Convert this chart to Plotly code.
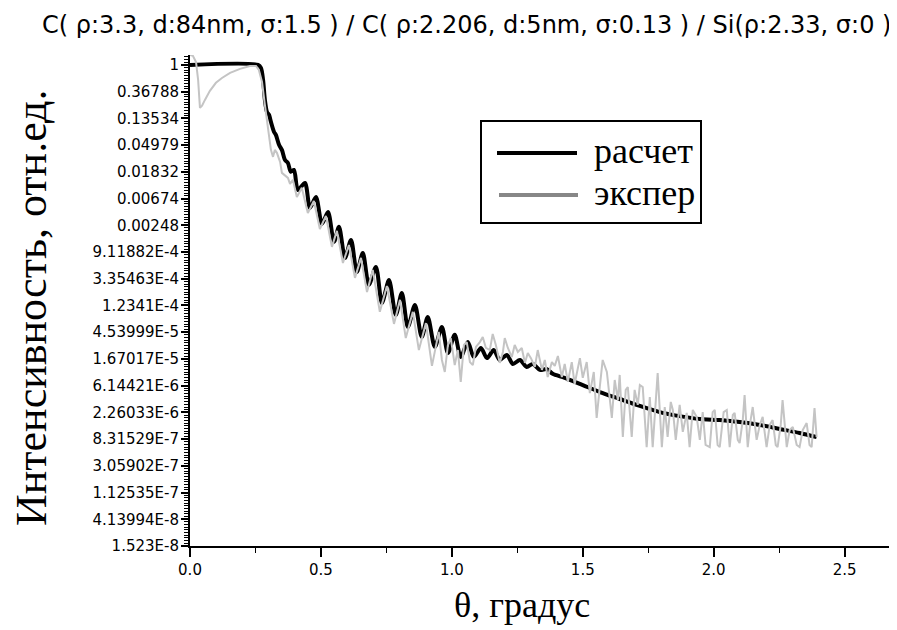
import plotly.graph_objects as go

# ---- data (theta in degrees, ln of relative intensity) ----
calc_theta = [0.000, 0.260, 0.271, 0.279, 0.286, 0.294, 0.302, 0.309, 0.321, 0.328, 0.340, 0.351,
              0.363, 0.374, 0.385, 0.397, 0.412, 0.439, 0.458, 0.481, 0.504, 0.527, 0.550, 0.569,
              0.592, 0.615, 0.637, 0.660, 0.683, 0.710, 0.733, 0.760, 0.786, 0.809, 0.832, 0.859,
              0.885, 0.908, 0.935, 0.962, 0.985, 1.011, 1.034, 1.061, 1.084, 1.111, 1.134, 1.160,
              1.183, 1.210, 1.233, 1.260, 1.286, 1.309, 1.336, 1.363, 1.385, 1.431, 1.500, 1.565,
              1.641, 1.718, 1.794, 1.870, 1.947, 2.023, 2.099, 2.176, 2.252, 2.328, 2.393]
calc_ln = [0.00, 0.00, -0.11, -0.56, -1.31, -1.76, -1.87, -2.13, -2.51, -2.62, -2.99, -3.18,
           -3.56, -3.67, -4.00, -3.93, -4.68, -4.42, -5.35, -4.94, -5.95, -5.50, -6.62, -6.06,
           -7.22, -6.55, -7.75, -7.04, -8.23, -7.56, -8.91, -8.05, -9.36, -8.53, -9.81, -8.98,
           -10.18, -9.43, -10.55, -9.81, -10.78, -10.10, -10.93, -10.37, -10.93, -10.59, -10.97, -10.67,
           -11.04, -10.85, -11.19, -11.04, -11.30, -11.19, -11.41, -11.38, -11.56, -11.71, -11.98, -12.24,
           -12.50, -12.76, -12.99, -13.14, -13.25, -13.29, -13.36, -13.47, -13.62, -13.77, -13.92]

exp_theta = [0.000, 0.011, 0.023, 0.031, 0.038, 0.046, 0.057, 0.076, 0.099, 0.122, 0.153, 0.191,
             0.229, 0.252, 0.263, 0.275, 0.286, 0.294, 0.302, 0.309, 0.317, 0.324, 0.332, 0.344,
             0.351, 0.363, 0.374, 0.382, 0.393, 0.408, 0.427, 0.450, 0.473, 0.496, 0.519, 0.542,
             0.561, 0.584, 0.607, 0.630, 0.653, 0.676, 0.698, 0.725, 0.752, 0.779, 0.802, 0.824,
             0.851, 0.874, 0.901, 0.924, 0.939, 0.950, 0.962, 0.973, 0.985, 0.996, 1.011, 1.023,
             1.034, 1.046, 1.057, 1.069, 1.080, 1.092, 1.107, 1.118, 1.130, 1.145, 1.156, 1.168,
             1.183, 1.195, 1.202, 1.214, 1.229, 1.240, 1.252, 1.267, 1.279, 1.290, 1.302, 1.317,
             1.328, 1.344, 1.355, 1.366, 1.382, 1.393, 1.405, 1.420, 1.431, 1.443, 1.458, 1.469,
             1.489, 1.500, 1.515, 1.527, 1.542, 1.553, 1.565, 1.576, 1.592, 1.603, 1.611, 1.622,
             1.634, 1.641, 1.653, 1.664, 1.672, 1.687, 1.698, 1.710, 1.718, 1.729, 1.744, 1.756,
             1.767, 1.779, 1.786, 1.802, 1.813, 1.824, 1.836, 1.844, 1.855, 1.870, 1.882, 1.897,
             1.908, 1.920, 1.935, 1.947, 1.958, 1.969, 1.985, 1.996, 2.004, 2.015, 2.023, 2.038,
             2.050, 2.061, 2.073, 2.080, 2.092, 2.099, 2.111, 2.118, 2.130, 2.141, 2.149, 2.164,
             2.176, 2.187, 2.202, 2.214, 2.225, 2.237, 2.244, 2.256, 2.263, 2.279, 2.290, 2.302,
             2.317, 2.328, 2.340, 2.355, 2.366, 2.374, 2.385, 2.393]
exp_ln = [0.37, 0.34, 0.11, -0.56, -1.61, -1.53, -1.31, -0.97, -0.67, -0.49, -0.30, -0.15,
          -0.04, -0.04, -0.19, -0.64, -1.50, -2.06, -2.62, -3.18, -3.44, -3.18, -3.29, -3.63,
          -4.04, -4.15, -4.23, -4.45, -4.30, -4.94, -4.60, -5.54, -5.09, -6.14, -5.65, -6.81,
          -6.21, -7.41, -6.74, -7.97, -7.22, -8.50, -7.67, -9.24, -8.27, -9.69, -8.79, -10.22,
          -9.24, -10.67, -9.66, -11.26, -10.48, -9.99, -11.04, -11.49, -10.48, -10.22, -11.23, -10.67,
          -11.86, -10.48, -10.37, -11.12, -11.23, -10.55, -10.37, -10.18, -10.59, -10.67, -10.07, -10.48,
          -11.15, -10.74, -10.22, -10.59, -10.93, -10.48, -10.74, -10.59, -11.15, -10.78, -10.97, -11.30,
          -10.67, -11.41, -11.04, -11.68, -11.12, -11.26, -10.89, -11.68, -11.19, -11.86, -11.12, -11.94,
          -10.97, -11.71, -11.12, -12.28, -11.49, -13.21, -12.05, -11.04, -11.49, -12.43, -13.21, -11.79,
          -12.54, -11.60, -13.92, -12.16, -12.05, -13.92, -12.16, -12.72, -11.98, -12.05, -14.30, -12.43,
          -14.30, -12.54, -11.53, -14.30, -12.80, -13.92, -12.61, -12.91, -14.03, -12.72, -13.73, -13.02,
          -14.30, -12.91, -13.17, -14.03, -12.99, -14.22, -14.30, -12.99, -12.91, -14.22, -14.30, -12.99,
          -12.91, -14.30, -13.10, -13.02, -14.03, -14.15, -13.29, -12.35, -14.30, -13.29, -12.80, -14.03,
          -13.47, -13.17, -14.30, -13.47, -13.29, -14.22, -14.30, -13.47, -12.54, -14.30, -13.66, -13.55,
          -14.22, -14.30, -13.66, -13.40, -14.22, -14.30, -12.84, -13.92]

# y tick labels (natural-log scale, Origin style)
ytick_vals = [0, -1, -2, -3, -4, -5, -6, -7, -8, -9, -10, -11, -12, -13, -14, -15, -16, -17, -18]
ytick_text = ["1", "0.36788", "0.13534", "0.04979", "0.01832", "0.00674", "0.00248",
              "9.11882E-4", "3.35463E-4", "1.2341E-4", "4.53999E-5", "1.67017E-5",
              "6.14421E-6", "2.26033E-6", "8.31529E-7", "3.05902E-7", "1.12535E-7",
              "4.13994E-8", "1.523E-8"]
xtick_vals = [0.0, 0.5, 1.0, 1.5, 2.0, 2.5]
xtick_text = ["0.0", "0.5", "1.0", "1.5", "2.0", "2.5"]

series_names = ["расчет", "экспер"]
title_text = "C( ρ:3.3, d:84nm, σ:1.5 ) / C( ρ:2.206, d:5nm, σ:0.13 ) / Si(ρ:2.33, σ:0 )"

fig = go.Figure()
fig.add_trace(go.Scatter(x=calc_theta, y=calc_ln, mode="lines", name=series_names[0],
                         line=dict(color="black", width=4, shape="spline", smoothing=0.8),
                         showlegend=False))
fig.add_trace(go.Scatter(x=exp_theta, y=exp_ln, mode="lines", name=series_names[1],
                         line=dict(color="#c4c4c4", width=2),
                         showlegend=False))

# page has an 8px body margin: work in page pixels and convert
OFF = 8
W, H = 889, 622
L, T = 190 - OFF, 55 - OFF
R = 0
B = H - (546 - OFF)
pw, ph = W - L - R, H - T - B


def px(x):
    return (x - OFF - L) / pw


def py(y):
    return (H - B - (y - OFF)) / ph


shapes = [
    dict(type="rect", xref="paper", yref="paper", x0=px(481), x1=px(701), y0=py(223), y1=py(121),
         line=dict(color="black", width=2), fillcolor="white"),
    dict(type="line", xref="paper", yref="paper", x0=px(497), x1=px(577), y0=py(153), y1=py(153),
         line=dict(color="black", width=4)),
    dict(type="line", xref="paper", yref="paper", x0=px(499), x1=px(578), y0=py(195), y1=py(195),
         line=dict(color="#878787", width=4)),
]
serif = "Liberation Serif, Times New Roman, serif"
sans = "DejaVu Sans, Arial, sans-serif"
annotations = [
    dict(text=series_names[0], xref="paper", yref="paper", x=px(592), y=py(151), xanchor="left",
         yanchor="middle", showarrow=False, font=dict(family=serif, size=36, color="black")),
    dict(text=series_names[1], xref="paper", yref="paper", x=px(592), y=py(193), xanchor="left",
         yanchor="middle", showarrow=False, font=dict(family=serif, size=36, color="black")),
    dict(text=title_text, xref="paper", yref="paper", x=px(466), y=py(25), xanchor="center",
         yanchor="middle", showarrow=False, font=dict(family=sans, size=24, color="black")),
    dict(text="Интенсивность, отн.ед.", xref="paper", yref="paper", x=px(31), y=py(308),
         xanchor="center", yanchor="middle", textangle=-90, showarrow=False,
         font=dict(family=serif, size=44, color="black")),
    dict(text="θ, градус", xref="paper", yref="paper", x=px(522), y=py(605), xanchor="center",
         yanchor="middle", showarrow=False, font=dict(family=serif, size=36, color="black")),
]

fig.update_layout(
    width=W, height=H,
    margin=dict(l=L, r=R, t=T, b=B, pad=0),
    paper_bgcolor="white", plot_bgcolor="white",
    shapes=shapes, annotations=annotations,
    xaxis=dict(range=[0, 2.7], tickvals=xtick_vals, ticktext=xtick_text,
               ticks="outside", ticklen=9, tickwidth=1.5, tickcolor="black",
               showline=True, linecolor="black", linewidth=2, showgrid=False, zeroline=False,
               tickfont=dict(family=sans, size=15, color="black"),
               minor=dict(dtick=0.25, tick0=0, ticks="outside", ticklen=5, tickwidth=1.2,
                          tickcolor="black", showgrid=False)),
    yaxis=dict(range=[-18, 0.37], tickvals=ytick_vals, ticktext=ytick_text,
               ticks="outside", ticklen=7, tickwidth=1.5, tickcolor="black",
               ticklabelstandoff=-1,
               showline=True, linecolor="black", linewidth=2, showgrid=False, zeroline=False,
               tickfont=dict(family=sans, size=15, color="black"),
               minor=dict(dtick=0.1, tick0=0, ticks="outside", ticklen=4, tickwidth=1,
                          tickcolor="black", showgrid=False)),
)

fig.write_html("out.html")
